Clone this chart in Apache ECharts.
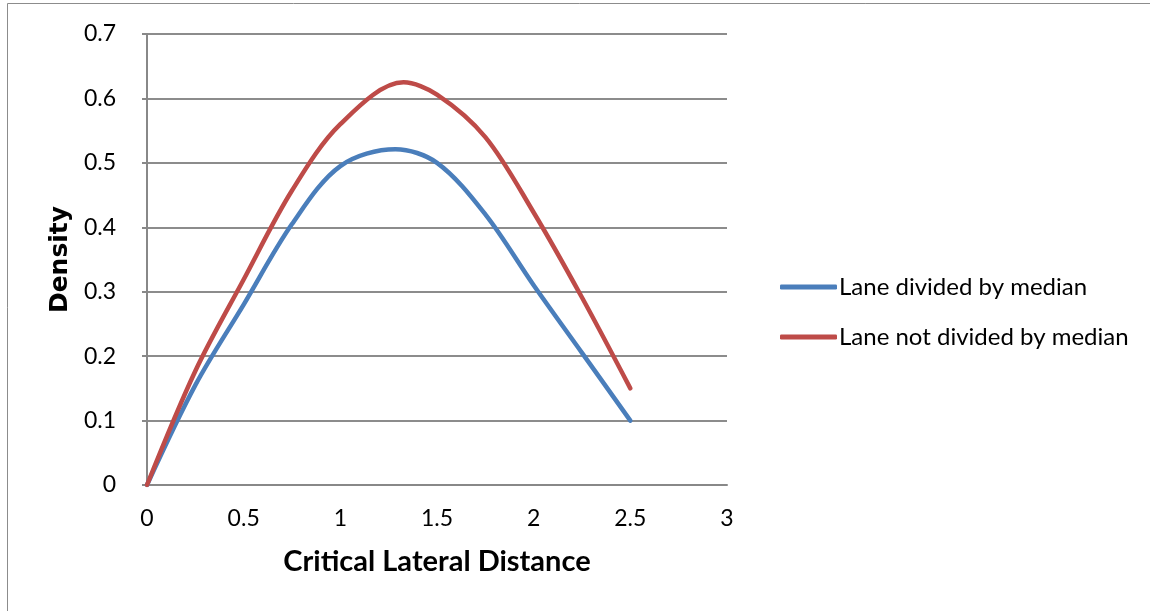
<!DOCTYPE html>
<html>
<head>
<meta charset="utf-8">
<script src="https://cdn.jsdelivr.net/npm/echarts@6/dist/echarts.min.js"></script>
<style>
html,body{margin:0;padding:0;background:#fff;}
#chart{width:1150px;height:611px;}
</style>
</head>
<body>
<div id="chart"></div>
<script>
// Values
var xTickInterval = 0.5;
var yTickInterval = 0.1;
var seriesNames = ['Lane divided by median', 'Lane not divided by median'];
var xAxisTitle = 'Critical Lateral Distance';
var yAxisTitle = 'Density';

var dividedX = [0, 0.25, 0.5, 0.75, 1.0, 1.285, 1.5, 1.75, 2.0, 2.25, 2.5];
var dividedY = [0, 0.155, 0.28, 0.405, 0.495, 0.521, 0.5, 0.42, 0.31, 0.205, 0.1];

var notDividedX = [0, 0.25, 0.5, 0.75, 1.0, 1.327, 1.5, 1.75, 2.0, 2.25, 2.5];
var notDividedY = [0, 0.177, 0.319, 0.457, 0.56, 0.625, 0.606, 0.54, 0.423, 0.291, 0.15];

function pairs(xs, ys) { return xs.map(function (x, i) { return [x, ys[i]]; }); }

var FONT = 'Lato';
var chart = echarts.init(document.getElementById('chart'), null, {renderer: 'canvas'});
chart.setOption({
  animation: false,
  backgroundColor: '#ffffff',
  graphic: [{
    type: 'rect', silent: true, z: -10,
    shape: {x: 7.5, y: 3.5, width: 1300, height: 800},
    style: {fill: 'none', stroke: '#8c8c8c', lineWidth: 1}
  }],
  grid: {left: 147, top: 34, right: 423, bottom: 126, containLabel: false},
  legend: {
    orient: 'vertical',
    left: 775, top: 270,
    itemWidth: 57, itemHeight: 5, itemGap: 26,
    icon: 'roundRect',
    textStyle: {fontFamily: FONT, fontSize: 24, color: '#000', padding: [0, 0, 0, -3]},
    data: seriesNames
  },
  xAxis: {
    type: 'value', min: 0, max: 3, interval: xTickInterval,
    name: xAxisTitle, nameLocation: 'middle', nameGap: 62,
    nameTextStyle: {fontFamily: FONT, fontSize: 29, fontWeight: 'bold', color: '#000'},
    axisLine: {show: true, lineStyle: {color: '#888', width: 2}},
    axisTick: {show: false},
    axisLabel: {fontFamily: FONT, fontSize: 23, color: '#000', margin: 22},
    splitLine: {show: false}
  },
  yAxis: {
    type: 'value', min: 0, max: 0.7, interval: yTickInterval,
    name: yAxisTitle, nameLocation: 'middle', nameGap: 70, nameRotate: 90,
    nameTextStyle: {fontFamily: 'DejaVu Sans', fontSize: 25, fontWeight: 'bold', color: '#000'},
    axisLine: {show: true, lineStyle: {color: '#888', width: 2}},
    axisTick: {show: true, length: 5, lineStyle: {color: '#888', width: 2}},
    axisLabel: {fontFamily: FONT, fontSize: 23, color: '#000', margin: 31},
    splitLine: {show: true, lineStyle: {color: '#8c8c8c', width: 2}}
  },
  series: [{
    name: seriesNames[0], type: 'line', smooth: 0.33, symbol: 'none',
    data: pairs(dividedX, dividedY),
    itemStyle: {color: '#4A7EBB'},
    lineStyle: {color: '#4A7EBB', width: 4.5, cap: 'round', join: 'round'}
  }, {
    name: seriesNames[1], type: 'line', smooth: 0.33, symbol: 'none',
    data: pairs(notDividedX, notDividedY),
    itemStyle: {color: '#BE4B48'},
    lineStyle: {color: '#BE4B48', width: 4.5, cap: 'round', join: 'round'}
  }]
});
</script>
</body>
</html>
